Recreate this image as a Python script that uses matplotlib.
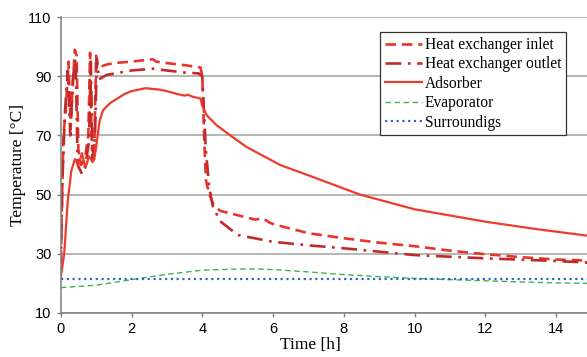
import matplotlib
matplotlib.use("Agg")
import matplotlib.pyplot as plt

# time [h] and temperatures [°C]
t_inlet = [0.0, 0.03, 0.08, 0.15, 0.22, 0.25, 0.28, 0.33, 0.40, 0.45, 0.50,
           0.58, 0.68, 0.78, 0.83, 0.88, 0.95, 1.00, 1.05, 1.3, 1.5, 2.0, 2.6,
           2.7, 3.0, 3.5, 3.95, 4.0, 4.05, 4.1, 4.2, 4.3, 4.5, 5.0, 5.5, 5.7,
           5.9, 6.0, 7.0, 8.0, 9.0, 10.0, 11.0, 12.0, 13.0, 14.0, 15.0]
inlet = [22, 45, 70, 80, 95, 85, 72, 85, 99, 97, 65,
         60, 62, 70, 98, 65, 66, 97, 93, 94, 94.5, 95, 95.8,
         95, 94.5, 93.8, 93, 90, 70, 55, 50, 47, 44.5, 43, 41.5, 42,
         40.5, 40, 36.9, 35.2, 33.7, 32.5, 31, 29.8, 28.8, 28, 27.6]

t_outlet = [0.0, 0.05, 0.12, 0.20, 0.27, 0.35, 0.42, 0.48, 0.60, 0.70, 0.80,
            0.85, 0.90, 0.97, 1.02, 1.08, 1.3, 2.0, 2.6, 3.0, 3.5, 3.9, 4.0,
            4.1, 4.2, 4.3, 4.5, 5.0, 6.0, 7.0, 8.0, 10.0, 12.0, 14.0, 15.0]
outlet = [24, 55, 78, 92, 70, 90, 96, 60, 57, 60, 68,
          95, 62, 70, 96, 89, 90.5, 92, 92.6, 92, 91.3, 91, 90,
          65, 52, 46, 41, 36.3, 34, 32.8, 31.8, 29.5, 28.4, 27.5, 26.9]

t_ads = [0.0, 0.1, 0.2, 0.3, 0.4, 0.5, 0.6, 0.7, 0.8, 0.9, 0.95, 1.0, 1.1,
         1.2, 1.4, 1.6, 1.8, 2.0, 2.4, 2.8, 3.0, 3.3, 3.5, 3.6, 3.7, 3.95,
         4.0, 4.12, 4.4, 4.78, 5.25, 6.2, 7.0, 8.45, 10.0, 12.0, 13.5, 15.0]
adsorber = [22, 30, 48, 58, 62, 60, 64, 59, 63, 61, 62, 66, 75,
            78.6, 81, 82.5, 84, 85, 86, 85.5, 85, 84, 83.5, 83.8, 83.2, 82.5,
            80, 76.9, 73.5, 70.1, 66.1, 60, 56.5, 50, 45, 40.8, 38.2, 35.9]

t_evap = [0.0, 1.0, 2.0, 3.0, 4.0, 5.0, 5.5, 6.0, 7.0, 8.0, 9.0, 10.0,
          11.0, 12.0, 13.0, 14.0, 15.0]
evaporator = [18.5, 19.3, 21.2, 23.0, 24.4, 24.8, 24.8, 24.6, 23.8, 22.9,
              22.2, 21.6, 21.2, 20.8, 20.4, 20.1, 19.9]

t_surr = [0.0, 15.0]
surroundings = [21.5, 21.5]

labels = ["Heat exchanger inlet", "Heat exchanger outlet", "Adsorber",
          "Evaporator", "Surroundigs"]

fig = plt.figure(figsize=(5.87, 3.57), dpi=100)
ax = fig.add_axes([60.7 / 587, 1 - 312.7 / 357, 531 / 587, 295.4 / 357])

ax.plot(t_inlet, inlet, color="#E8352B", lw=1.9, dashes=(4, 2.2), label=labels[0])
ax.plot(t_outlet, outlet, color="#C22A2A", lw=1.9, dashes=(6, 2.5, 1, 2.5),
        label=labels[1])
ax.plot(t_ads, adsorber, color="#EE3B2C", lw=1.6, label=labels[2])
ax.plot(t_evap, evaporator, color="#3EB54B", lw=1.0, dashes=(4, 2.5),
        label=labels[3])
ax.plot(t_surr, surroundings, color="#2A6AC6", lw=1.6, dashes=(1, 1.6),
        label=labels[4])

ax.set_xlim(0, 15)
ax.set_ylim(10, 110)
ax.set_xticks(range(0, 15, 2))
ax.set_yticks(range(10, 111, 20))
ax.yaxis.grid(True, color="#A0A0A0", lw=1.1)
ax.set_axisbelow(True)
for s in ["top", "right"]:
    ax.spines[s].set_visible(False)
for s in ["left", "bottom"]:
    ax.spines[s].set_color("#7F7F7F")
    ax.spines[s].set_linewidth(1.1)
ax.tick_params(colors="#7F7F7F", length=3, width=1.0, labelcolor="black",
               labelsize=10.5)
for lab in ax.get_xticklabels() + ax.get_yticklabels():
    lab.set_family("Liberation Sans")

ax.set_xlabel("Time [h]", family="Liberation Serif", fontsize=12.5, labelpad=1)
ax.xaxis.label.set_x((310 - 60.7) / 531)
ax.set_ylabel("Temperature [°C]", family="Liberation Serif", fontsize=12.5,
              labelpad=2)

leg = ax.legend(loc="upper right", bbox_to_anchor=(565.7 / 587, 1 - 32.3 / 357),
                bbox_transform=fig.transFigure, prop={"family": "Liberation Serif",
                "size": 11.2}, frameon=True, fancybox=False, edgecolor="#333333",
                framealpha=1, handlelength=2.4, handletextpad=0.15,
                labelspacing=0.22, borderpad=0.3, borderaxespad=0)
leg.get_frame().set_linewidth(0.9)

fig.savefig("out.png", dpi=100)
